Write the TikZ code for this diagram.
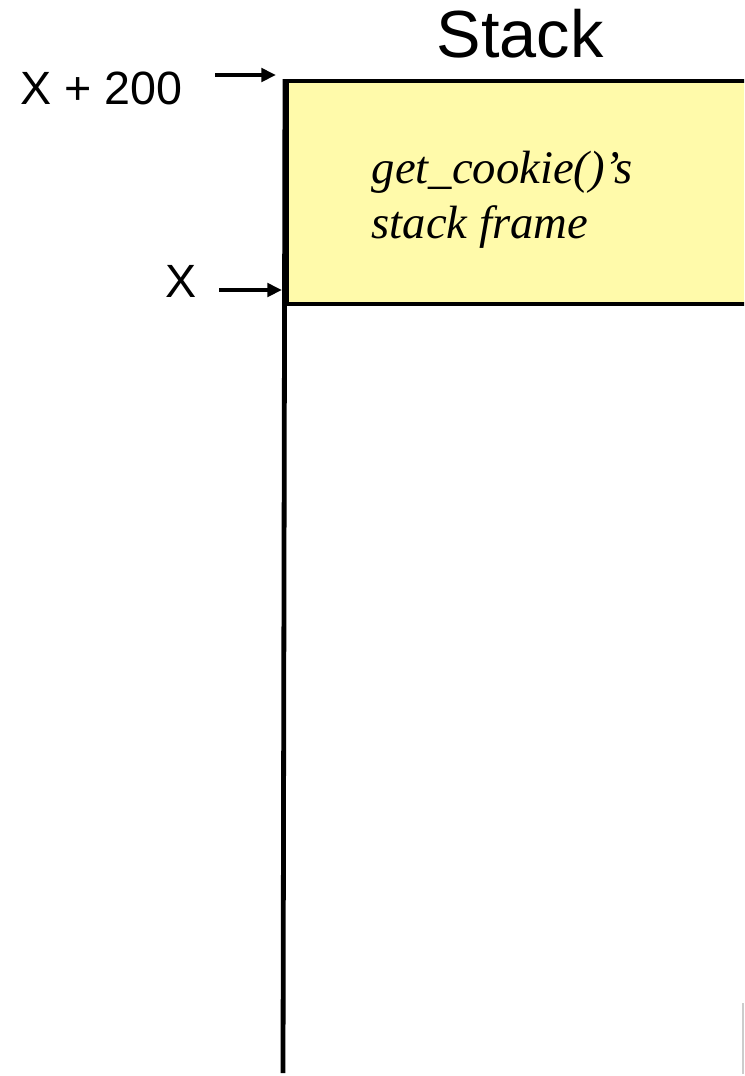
\documentclass[tikz,border=0pt]{standalone}
\usepackage{fontspec}
\setmainfont{Liberation Serif}
\setsansfont{Liberation Sans}
\usepackage{tikz}
\usetikzlibrary{arrows.meta, positioning}
\definecolor{frameyellow}{RGB}{255,250,170}

\begin{document}
\begin{tikzpicture}[x=0.75pt, y=-0.75pt,
  addr/.style={font=\sffamily\fontsize{35}{42}\selectfont, inner sep=0pt, anchor=base east},
  ptr/.style={-{Triangle[length=11pt,width=10pt]}, line width=2.8pt},
  stackframe/.style={draw, line width=3pt, fill=frameyellow, inner sep=0pt,
    minimum width=400pt, minimum height=167pt, anchor=north west}]
  \useasboundingbox (0,0) rectangle (744,1076);
  \clip (0,0) rectangle (744,1076);

  \node[font=\sffamily\fontsize{50}{60}\selectfont, anchor=base] (title) at (520,57) {Stack};

  % get_cookie() frame at the top of the stack
  \node[stackframe] (frame) at (285,79) {};
  \node[font=\itshape\fontsize{35}{41}\selectfont, align=left, anchor=base west] (fname) at (367,238)
    {get\_cookie()’s\\stack frame};

  % stack wall
  \coordinate (floor) at (283,1073);
  \draw[line width=3.6pt] (frame.north west) -- (floor);
  \draw[black!20, line width=0.8pt] (743,1003) -- (743,1074);

  % addresses
  \node[addr] (top) at (183,104) {X + 200};
  \node[addr] (bot) at (197,297) {X};
  \coordinate (topTail) at (215,75);
  \coordinate (topTip) at (276,75);
  \coordinate (botTail) at (219,290);
  \coordinate (botTip) at (282,290);
  \draw[ptr] (topTail) -- (topTip);
  \draw[ptr] (botTail) -- (botTip);
\end{tikzpicture}
\end{document}
